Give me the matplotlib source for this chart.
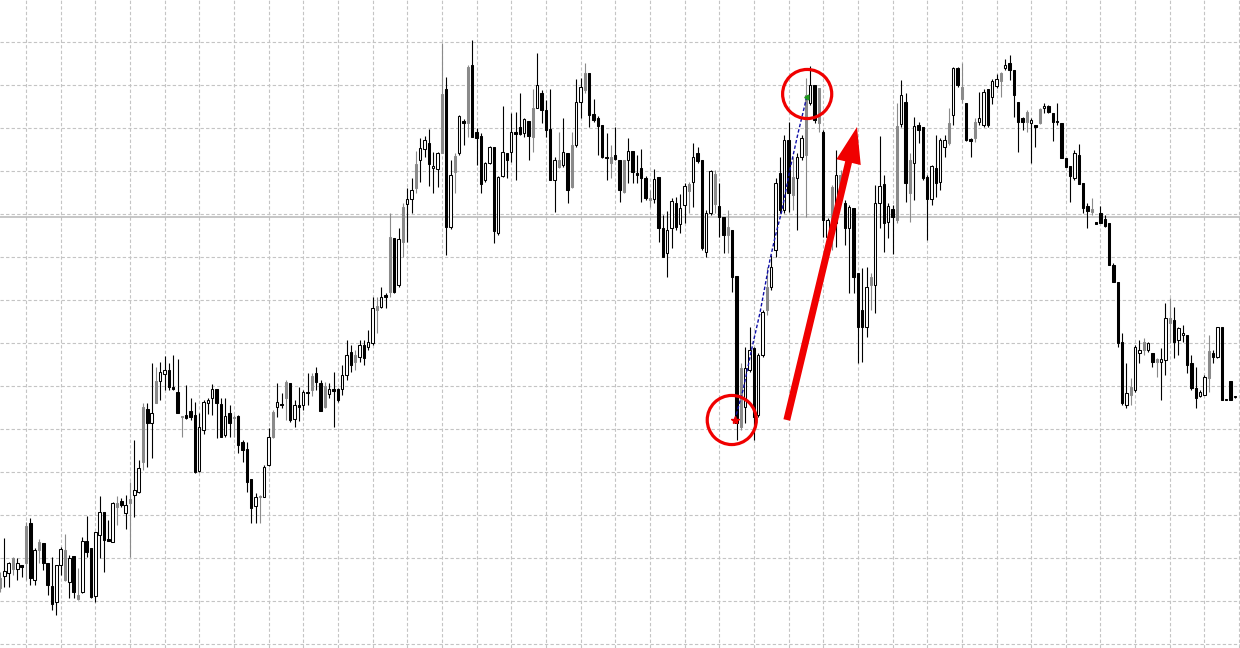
import numpy as np
import matplotlib
matplotlib.use("Agg")
import matplotlib.pyplot as plt
from matplotlib.patches import FancyArrowPatch

# OHLC per bar (arbitrary price units)
opens = [
    72, 74, 77, 92, 81, 85, 124, 127, 70, 108,
    107, 87, 64, 48, 85, 100, 68, 94, 55, 58,
    109, 102, 54, 115, 138, 111, 108, 147, 149, 137,
    151, 155, 158, 243, 241, 227, 269, 269, 276, 280,
    263, 258, 234, 235, 239, 235, 179, 220, 247, 252,
    261, 246, 215, 237, 233, 234, 208, 201, 171, 144,
    154, 153, 185, 238, 243, 246, 268, 267, 231, 245,
    245, 258, 274, 277, 267, 264, 256, 261, 261, 261,
    275, 298, 295, 293, 305, 303, 307, 344, 343, 355,
    413, 412, 365, 443, 446, 451, 486, 490, 501, 507,
    482, 481, 556, 561, 423, 494, 497, 529, 583, 585,
    518, 514, 470, 487, 503, 417, 474, 497, 498, 518,
    523, 517, 529, 542, 542, 557, 540, 521, 470, 490,
    485, 497, 505, 505, 548, 577, 577, 536, 532, 525,
    493, 493, 495, 490, 490, 490, 499, 477, 482, 472,
    452, 451, 473, 422, 397, 422, 447, 426, 445, 466,
    468, 497, 490, 398, 437, 476, 444, 433, 423, 420,
    374, 282, 243, 280, 302, 235, 295, 363, 363, 400,
    477, 440, 510, 473, 472, 493, 555, 547, 565, 562,
    518, 413, 463, 427, 475, 447, 422, 442, 377, 340,
    323, 373, 365, 447, 466, 428, 441, 524, 526, 548,
    490, 487, 525, 523, 473, 451, 482, 468, 503, 527,
    535, 582, 563, 547, 511, 528, 528, 525, 561, 553,
    564, 577, 582, 587, 580, 548, 532, 538, 527, 525,
    541, 542, 544, 537, 529, 527, 492, 484, 472, 495,
    467, 444, 441, 428, 437, 431, 427, 385, 368, 308,
    245, 263, 260, 297, 308, 300, 297, 291, 288, 290,
    332, 330, 310, 315, 315, 287, 262, 254, 255, 299,
    297, 293, 323, 250, 269, 253,
]
highs = [
    78, 112, 88, 93, 92, 85, 128, 132, 102, 111,
    107, 87, 93, 85, 103, 116, 95, 94, 82, 113,
    134, 102, 118, 154, 138, 130, 148, 154, 152, 155,
    168, 210, 190, 247, 247, 287, 283, 288, 294, 287,
    295, 291, 234, 265, 252, 248, 237, 250, 252, 266,
    261, 252, 252, 245, 235, 235, 210, 208, 171, 157,
    155, 185, 222, 240, 267, 257, 270, 267, 250, 263,
    260, 277, 277, 283, 270, 268, 267, 278, 262, 285,
    310, 305, 300, 310, 310, 320, 353, 353, 363, 357,
    437, 412, 422, 447, 462, 472, 499, 512, 514, 521,
    498, 498, 607, 573, 490, 497, 535, 531, 585, 610,
    522, 517, 488, 504, 503, 474, 544, 497, 537, 538,
    557, 532, 529, 561, 597, 560, 550, 561, 493, 518,
    532, 497, 518, 571, 572, 587, 577, 551, 534, 525,
    517, 505, 523, 490, 490, 512, 499, 495, 501, 474,
    460, 481, 473, 435, 439, 452, 453, 456, 467, 468,
    507, 503, 490, 440, 480, 480, 467, 433, 440, 420,
    374, 287, 303, 323, 303, 297, 340, 383, 395, 472,
    493, 515, 528, 493, 497, 515, 572, 584, 565, 562,
    520, 432, 465, 500, 480, 450, 445, 442, 377, 382,
    383, 377, 465, 514, 475, 447, 445, 547, 570, 557,
    497, 533, 528, 523, 475, 485, 515, 512, 515, 542,
    583, 583, 587, 547, 512, 532, 558, 561, 561, 571,
    576, 578, 591, 595, 580, 548, 533, 540, 532, 525,
    542, 547, 545, 537, 547, 527, 492, 484, 500, 506,
    467, 447, 452, 428, 444, 435, 427, 387, 368, 317,
    287, 272, 305, 310, 312, 308, 297, 292, 302, 347,
    352, 343, 323, 325, 315, 295, 283, 260, 275, 315,
    300, 323, 323, 250, 269, 254,
]
lows = [
    58, 63, 63, 75, 70, 73, 70, 65, 65, 87,
    80, 55, 40, 35, 75, 69, 52, 52, 50, 57,
    93, 52, 48, 92, 78, 109, 108, 125, 143, 121,
    93, 133, 157, 180, 183, 192, 247, 250, 260, 260,
    260, 237, 213, 231, 230, 177, 178, 216, 236, 235,
    212, 213, 213, 213, 213, 197, 188, 158, 127, 127,
    127, 153, 184, 212, 233, 242, 230, 228, 223, 229,
    240, 245, 254, 260, 239, 242, 252, 223, 248, 255,
    270, 278, 280, 288, 285, 300, 305, 317, 342, 342,
    353, 357, 363, 393, 408, 437, 457, 468, 493, 464,
    457, 463, 497, 395, 421, 457, 495, 505, 513, 513,
    485, 457, 468, 486, 407, 415, 473, 472, 488, 470,
    515, 513, 490, 498, 542, 527, 513, 470, 438, 482,
    483, 447, 462, 503, 532, 557, 523, 528, 495, 492,
    470, 472, 490, 448, 457, 467, 467, 467, 448, 450,
    443, 447, 408, 393, 373, 402, 420, 417, 427, 437,
    443, 487, 400, 393, 435, 437, 413, 397, 397, 358,
    210, 220, 227, 278, 210, 233, 293, 335, 360, 393,
    437, 437, 438, 440, 420, 490, 433, 545, 527, 518,
    413, 393, 400, 403, 447, 405, 357, 357, 287, 288,
    313, 340, 337, 422, 398, 412, 396, 427, 523, 448,
    428, 450, 507, 470, 410, 445, 453, 460, 493, 505,
    525, 563, 547, 509, 493, 508, 525, 523, 523, 546,
    562, 553, 580, 570, 533, 498, 520, 518, 487, 503,
    526, 537, 537, 509, 525, 492, 483, 448, 470, 466,
    437, 422, 435, 426, 427, 423, 385, 368, 303, 245,
    242, 245, 258, 287, 295, 298, 283, 273, 250, 275,
    307, 292, 295, 308, 277, 260, 242, 253, 255, 258,
    287, 292, 250, 250, 250, 252,
]
closes = [
    62, 79, 87, 81, 87, 83, 87, 72, 100, 100,
    87, 65, 46, 85, 101, 70, 92, 58, 51, 109,
    98, 53, 118, 138, 110, 109, 147, 143, 145, 145,
    147, 160, 182, 188, 227, 237, 247, 278, 280, 263,
    261, 237, 233, 232, 233, 178, 223, 248, 250, 261,
    247, 213, 234, 227, 232, 205, 200, 168, 142, 153,
    153, 183, 213, 213, 248, 245, 252, 230, 245, 243,
    258, 257, 260, 268, 239, 243, 261, 259, 250, 275,
    295, 285, 288, 305, 292, 308, 342, 340, 353, 353,
    358, 358, 411, 408, 451, 460, 462, 502, 510, 486,
    484, 497, 497, 423, 475, 478, 534, 527, 527, 513,
    512, 466, 487, 503, 419, 473, 498, 490, 518, 516,
    516, 531, 514, 513, 565, 540, 520, 470, 490, 483,
    498, 460, 463, 548, 563, 560, 535, 530, 524, 493,
    492, 487, 491, 460, 458, 499, 478, 475, 472, 452,
    450, 471, 422, 393, 420, 449, 423, 442, 464, 459,
    493, 489, 402, 437, 479, 446, 433, 415, 415, 373,
    227, 223, 282, 300, 233, 295, 338, 340, 383, 467,
    440, 510, 457, 455, 493, 512, 495, 565, 530, 527,
    430, 430, 420, 475, 450, 422, 443, 373, 323, 323,
    363, 365, 447, 464, 427, 444, 433, 430, 555, 467,
    457, 524, 520, 472, 451, 484, 467, 510, 510, 507,
    582, 565, 551, 510, 509, 512, 532, 558, 525, 569,
    571, 569, 585, 580, 555, 528, 528, 528, 530, 523,
    527, 544, 538, 528, 528, 492, 483, 474, 497, 466,
    442, 439, 438, 426, 427, 424, 385, 368, 307, 247,
    257, 255, 303, 300, 300, 307, 288, 288, 291, 332,
    327, 308, 322, 317, 285, 262, 252, 258, 273, 272,
    293, 323, 250, 250, 250, 254,
]
# bars that show up grey in the screenshot
grey_bars = [0, 3, 6, 9, 15, 18, 27, 30, 33, 36, 42, 54, 60, 63, 66, 72, 75,
             82, 87, 90, 93, 96, 102, 105, 108, 123, 129, 132, 135, 141, 144,
             150, 159, 165, 168, 171, 177, 183, 186, 189, 192, 194, 201, 207,
             210, 219, 222, 225, 231, 237, 240, 252, 261, 264, 267, 270, 279]

level_line = 433          # horizontal price line
# dotted swing line drawn by the indicator (bar index, price)
swing_bars = [169.6, 171.5, 173.6, 175.4, 177.7, 178.9, 180.5, 182.3, 184.2, 186.2]
swing_prices = [230, 260, 303, 337, 390, 413, 440, 480, 517, 553]
# hand-drawn annotations
circle_bars = [168.9, 186.3]
circle_prices = [230, 556]
arrow_from = (181.6, 230)
arrow_to = (197.8, 523)

RED = '#f00000'
GRID = '#c4c4c4'

o = np.array(opens, float)
h = np.array(highs, float)
l = np.array(lows, float)
c = np.array(closes, float)
n = len(o)
assert len(h) == n and len(l) == n and len(c) == n
x = np.arange(n)
h = np.maximum(h, np.maximum(o, c))
l = np.minimum(l, np.minimum(o, c))

grey = np.zeros(n, bool)
grey[grey_bars] = True
face = np.where(grey, '#8a8a8a', np.where(c >= o, '#ffffff', '#000000'))
edge = np.where(grey, '#8a8a8a', '#000000')

fig = plt.figure(figsize=(12.4, 6.48), dpi=100)
fig.patch.set_facecolor('white')
ax = fig.add_axes([0, 0, 1, 1])
ax.set_xlim(0, 286.2)
ax.set_ylim(2, 650)

# dashed chart grid
ax.set_xticks(np.arange(6, 290, 8))
ax.set_yticks(np.arange(6, 650, 43))
ax.grid(True, color=GRID, lw=0.8, ls=(0, (3, 2)))
ax.set_axisbelow(True)
ax.tick_params(length=0, labelbottom=False, labelleft=False)
for s in ax.spines.values():
    s.set_visible(False)

ax.axhline(level_line, color='#b8b8b8', lw=1.1, zorder=1)

# candles
ax.vlines(x, l, h, colors=edge, lw=0.8, zorder=2)
body_lo = np.minimum(o, c)
body_h = np.maximum(np.abs(c - o), 0.6)
ax.bar(x, body_h, bottom=body_lo, width=0.55, color=face, edgecolor=edge,
       linewidth=0.75, zorder=3)

# swing line with its end markers
ax.plot(swing_bars, swing_prices, color='#1010a8', lw=1.0, ls=(0, (2.5, 1.5)), zorder=4)
ax.plot(swing_bars[0], swing_prices[0], marker='*', color=RED, ms=6, zorder=5)
ax.plot(swing_bars[-1], swing_prices[-1], marker=(3, 0, -30), color='#1f9a1f', ms=4, zorder=5)

# red circles and arrow
ax.scatter(circle_bars, circle_prices, s=1250, facecolors='none', edgecolors=RED,
           linewidths=2.3, zorder=6)
arrow = FancyArrowPatch(arrow_from, arrow_to,
                        arrowstyle='simple,tail_width=0.25,head_width=0.9,head_length=1.3',
                        mutation_scale=20, color=RED, lw=0, shrinkA=0, shrinkB=0, zorder=6)
ax.add_patch(arrow)

fig.savefig('out.png', dpi=100, facecolor='white')
